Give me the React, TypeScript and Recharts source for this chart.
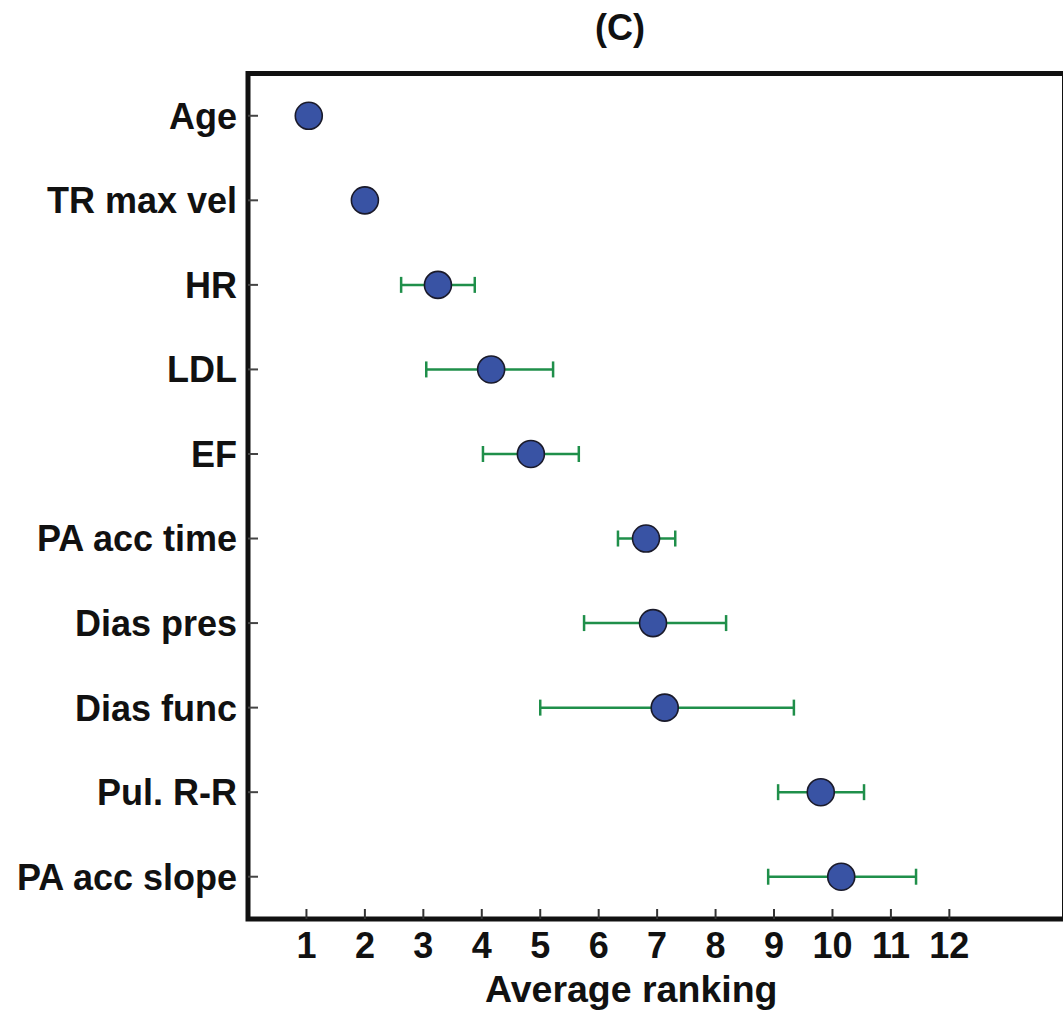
import React from "react";
import { ScatterChart, Scatter, XAxis, YAxis, ErrorBar, ReferenceArea } from "recharts";

// features, top to bottom
const features = [
  "Age",
  "TR max vel",
  "HR",
  "LDL",
  "EF",
  "PA acc time",
  "Dias pres",
  "Dias func",
  "Pul. R-R",
  "PA acc slope",
];
const meanRank = [1.04, 2.0, 3.25, 4.16, 4.84, 6.81, 6.93, 7.13, 9.8, 10.15];
// ends of the error bars (null = no bar)
const lowRank = [null, null, 2.62, 3.05, 4.02, 6.33, 5.75, 5.0, 9.07, 8.9];
const highRank = [null, null, 3.88, 5.22, 5.66, 7.31, 8.18, 9.34, 10.54, 11.43];
const xTicks = [1, 2, 3, 4, 5, 6, 7, 8, 9, 10, 11, 12];

const data = features.map((name, i) => ({
  name,
  mean: meanRank[i],
  err:
    lowRank[i] == null || highRank[i] == null
      ? null
      : [meanRank[i] - (lowRank[i] as number), (highRank[i] as number) - meanRank[i]],
}));

const FONT = '"Liberation Sans", Arial, Helvetica, sans-serif';

const XTick = (props: any) => {
  const { x, y, payload } = props;
  return (
    <g>
      <line x1={x} y1={y} x2={x} y2={y - 10} stroke="#333" strokeWidth={2} />
      <text x={x} y={y + 39} textAnchor="middle" fontFamily={FONT} fontWeight="bold" fontSize={36} fill="#111">
        {payload.value}
      </text>
    </g>
  );
};

const YTick = (props: any) => {
  const { x, y, payload } = props;
  return (
    <g>
      <line x1={x} y1={y} x2={x + 10} y2={y} stroke="#444" strokeWidth={2} />
      <text x={x - 11} y={y} dy="0.36em" textAnchor="end" fontFamily={FONT} fontWeight="bold" fontSize={36} fill="#111">
        {payload.value}
      </text>
    </g>
  );
};

const Dot = (props: any) => {
  const { cx, cy } = props;
  return <circle cx={cx} cy={cy} r={13.5} fill="#3953a4" stroke="#1a1a2a" strokeWidth={1.6} />;
};

export default function App() {
  return (
    <div style={{ position: "relative", width: 1063, height: 1011, overflow: "hidden" }}>
      <style>{"html, body { margin: 0; padding: 0; overflow: hidden; background: #fff; }"}</style>
      <div
        style={{
          position: "absolute",
          left: 520,
          top: 9.5,
          width: 200,
          textAlign: "center",
          fontFamily: FONT,
          fontWeight: "bold",
          fontSize: 36,
          lineHeight: "36px",
          color: "#111",
        }}
      >
        (C)
      </div>
      <ScatterChart width={1070} height={1011} margin={{ top: 73.5, right: 5.5, bottom: 0, left: 0 }}>
        <ReferenceArea x1={0} x2={13.97} stroke="#111" strokeWidth={5} fill="none" ifOverflow="visible" />
        <XAxis
          type="number"
          dataKey="mean"
          domain={[0, 13.97]}
          ticks={xTicks}
          allowDataOverflow
          height={92}
          axisLine={false}
          tickLine={false}
          tickSize={0}
          tickMargin={0}
          tick={<XTick />}
          interval={0}
          label={{
            value: "Average ranking",
            position: "insideBottom",
            offset: 9,
            dx: -25,
            fill: "#111",
            fontSize: 37.5,
            fontWeight: "bold",
            fontFamily: FONT,
          }}
        />
        <YAxis
          type="category"
          dataKey="name"
          width={248}
          reversed
          axisLine={false}
          tickLine={false}
          tickSize={0}
          tickMargin={0}
          tick={<YTick />}
          interval={0}
        />
        <Scatter data={data} shape={<Dot />} isAnimationActive={false}>
          <ErrorBar dataKey="err" direction="x" stroke="#1f8f4a" strokeWidth={2.5} width={8} />
        </Scatter>
      </ScatterChart>
    </div>
  );
}
